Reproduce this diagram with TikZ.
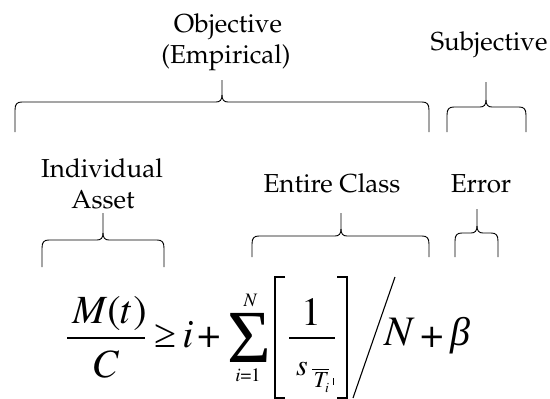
\documentclass[tikz,border=0pt]{standalone}
\usepackage[T1]{fontenc}
\usepackage{fontspec}
\newfontfamily\mathf{Liberation Serif}
\newcommand\lab{\fontencoding{T1}\fontfamily{ppl}\fontsize{26}{31}\selectfont}
\newcommand\mfs[1]{\mathf\fontsize{#1}{#1}\selectfont}
\newcommand\tms[1]{\fontencoding{T1}\fontfamily{ptm}\fontsize{#1}{#1}\selectfont}
\newcommand\drawbrace[6]{%
  \draw[brace] (#1,#6) -- (#1,#4+8) .. controls (#1,#4+2) and (#1+2,#4) .. (#1+7,#4)
     -- (#3-6,#4) .. controls (#3-2,#4) and (#3,#4-2) .. (#3,#4-7) -- (#3,#5);
  \draw[brace] (#2,#6) -- (#2,#4+8) .. controls (#2,#4+2) and (#2-2,#4) .. (#2-7,#4)
     -- (#3+6,#4) .. controls (#3+2,#4) and (#3,#4-2) .. (#3,#4-7);
}
\begin{document}
\begin{tikzpicture}[x=1pt,y=-1pt,
  brace/.style={line width=0.9pt, line join=round},
  label/.style={font=\lab, anchor=base, inner sep=0pt},
  gly/.style={anchor=base, inner sep=0pt},
  rule/.style={line width=1.1pt}]
\useasboundingbox (0,0) rectangle (550,399);
% labels
\node[label] (obj) at (228,32) {Objective};
\node[label] (emp) at (226,63) {(Empirical)};
\node[label] (subj) at (489,50) {Subjective};
\node[label] (indiv) at (102,177) {Individual};
\node[label] (asset) at (103,208) {Asset};
\node[label] (entire) at (332,192) {Entire Class};
\node[label] (err) at (481,192) {Error};
% braces: xl, xr, xtip, yhoriz, ytop, ybottom
\drawbrace{15}{429}{222}{102}{80}{132}
\drawbrace{447}{526}{486}{107}{82}{132}
\drawbrace{42}{164}{103}{240}{213}{267}
\drawbrace{252}{429}{341}{236}{213}{257}
\drawbrace{455}{498}{477}{233}{209}{257}
% formula
\node[gly, font=\tms{40}\itshape] (M) at (89,323) {M};
\node[gly, font=\tms{40}] (lp) at (114,323) {(};
\node[gly, font=\tms{40}\itshape] (t) at (125,323) {t};
\node[gly, font=\tms{40}] (rp) at (140,323) {)};
\draw[rule] (67,338) -- (145,338);
\node[gly, font=\tms{40}\itshape] (C) at (105,377) {C};
\node[gly, font=\mfs{40}] (geq) at (165,347) {≥};
\node[gly, font=\tms{40}\itshape] (i1) at (188,347) {i};
\node[gly, font=\tms{40}] (plus1) at (209,347) {+};
\node[gly, font=\mfs{75}, text height=50pt, text depth=0pt] (sum) at (249,362) {Σ};
\node[gly, font=\tms{19}\itshape, text depth=0pt] (Ntop) at (250,306) {N};
\node[gly, font=\tms{19}, text height=12pt] (ilow) at (248,381) {\itshape i\upshape =1};
\draw[line width=1.5pt] (285,277) -- (275,277) -- (275,398) -- (285,398);
\draw[line width=1.5pt] (337,277) -- (347,277) -- (347,398) -- (337,398);
\node[gly, font=\tms{40}] (one) at (311,325) {1};
\draw[rule] (289,338) -- (335,338);
\node[gly, font=\tms{30}\itshape, text depth=0pt] (s) at (302,375) {s};
\draw[line width=0.8pt] (312,369) -- (329,369);
\node[gly, font=\tms{23}\itshape, text depth=0pt, text height=15pt] (T) at (320,387) {T};
\node[gly, font=\tms{14}\itshape, text height=5pt, text depth=0pt] (isub) at (327,392) {i};
\draw[line width=0.7pt] (333,378) -- (333,385);
\draw[line width=1.1pt] (353,398) -- (395,277);
\node[gly, font=\tms{42}\itshape] (N) at (399,345) {N};
\node[gly, font=\tms{40}] (plus2) at (432,347) {+};
\node[gly, font=\mfs{40}\itshape] (beta) at (460,345) {β};
\end{tikzpicture}
\end{document}
